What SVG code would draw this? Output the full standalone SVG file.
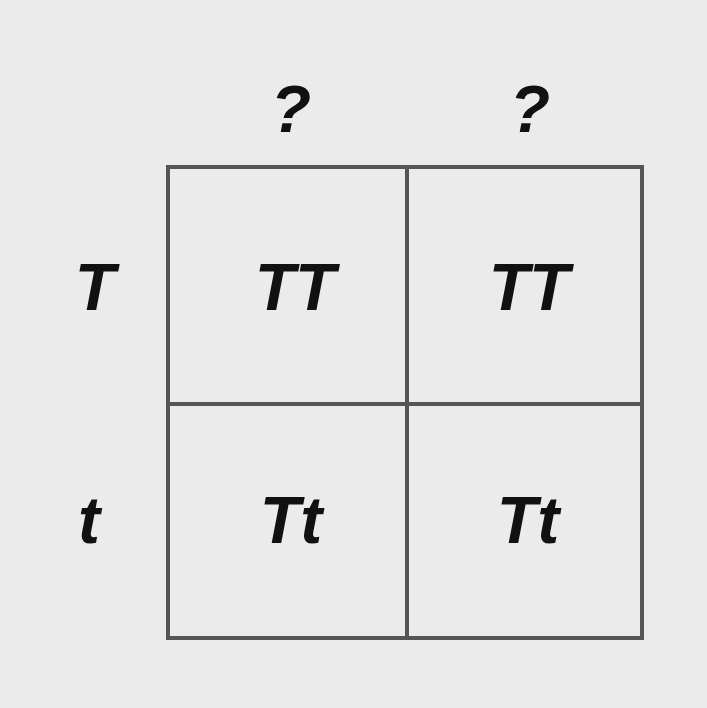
<svg xmlns="http://www.w3.org/2000/svg" width="707" height="708" viewBox="0 0 707 708">
<style>
.lbl{font-family:"Liberation Sans",Arial,sans-serif;font-weight:bold;font-style:italic;font-size:66px;fill:#111;text-anchor:middle}
.grid{stroke:#555;stroke-width:4;fill:none}
</style>
<rect width="707" height="708" fill="#ebebeb"/>
<g id="connectors">
<rect class="grid" x="168" y="167" width="474" height="471"/>
<line class="grid" x1="407" y1="167" x2="407" y2="638"/>
<line class="grid" x1="168" y1="404" x2="642" y2="404"/>
</g>
<g id="col1"><text class="lbl" x="291" y="132">?</text></g>
<g id="col2"><text class="lbl" x="530" y="132">?</text></g>
<g id="row1"><text class="lbl" x="95" y="310">T</text></g>
<g id="row2"><text class="lbl" x="89" y="543">t</text></g>
<g id="cell11"><text class="lbl" x="295" y="310">TT</text></g>
<g id="cell12"><text class="lbl" x="529" y="310">TT</text></g>
<g id="cell21"><text class="lbl" x="291" y="543">Tt</text></g>
<g id="cell22"><text class="lbl" x="528" y="543">Tt</text></g>
</svg>
